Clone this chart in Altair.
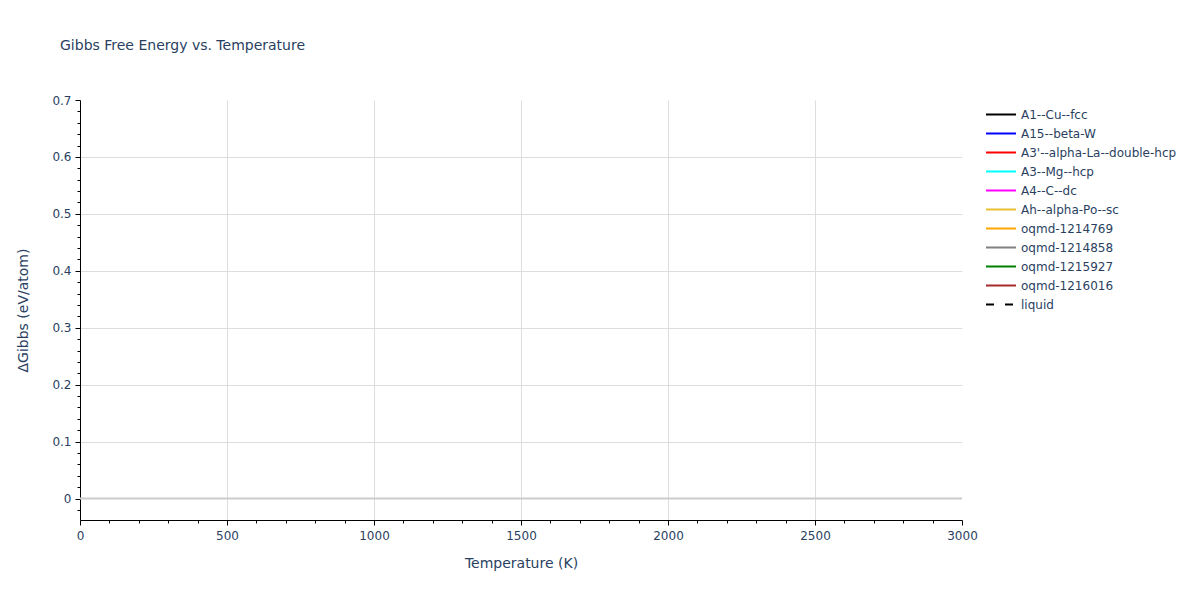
import altair as alt
import pandas as pd

# Series shown in the legend (no curve is visible inside the plot area of the reference)
phases = [
    "A1--Cu--fcc", "A15--beta-W", "A3'--alpha-La--double-hcp", "A3--Mg--hcp",
    "A4--C--dc", "Ah--alpha-Po--sc", "oqmd-1214769", "oqmd-1214858",
    "oqmd-1215927", "oqmd-1216016", "liquid",
]
colors = ["black", "blue", "red", "cyan", "magenta", "#e8c030",
          "orange", "gray", "green", "brown", "black"]
dashes = [[1, 0]] * 10 + [[8, 11]]

# No data points are drawn in the reference: every series is empty
temperature = []
gibbs = {p: [] for p in phases}

rows = [{"phase": p, "T": t, "G": g}
        for p in phases for t, g in zip(temperature, gibbs[p])]
df = pd.DataFrame(rows, columns=["phase", "T", "G"])

zero_df = pd.DataFrame({"G": [0.0]})

x_ticks = list(range(0, 3001, 100))
y_ticks = [round(-0.02 + 0.02 * i, 2) for i in range(37)]

TXT = "#2a3f5f"
FONT = "DejaVu Sans"

x_scale = alt.Scale(domain=[0, 3000], nice=False, zero=False)
y_scale = alt.Scale(domain=[-0.0377, 0.7], nice=False, zero=False)

x_axis = alt.Axis(
    title="Temperature (K)", values=x_ticks,
    labelExpr="datum.value % 500 === 0 ? format(datum.value, 'd') : ''",
    labelOverlap=False, labelFlush=False,
    tickSize={"condition": {"test": "datum.value % 500 === 0", "value": 5}, "value": 3},
    gridOpacity={"condition": {"test": "datum.value % 500 === 0 && datum.value > 0 && datum.value < 3000", "value": 1}, "value": 0},
    labelPadding=5, titlePadding=15,
)
y_axis = alt.Axis(
    title="ΔGibbs (eV/atom)", values=y_ticks,
    labelExpr="abs(datum.value*10 - round(datum.value*10)) < 0.001 ? format(datum.value, '.1~f') : ''",
    labelOverlap=False, labelFlush=False,
    tickSize={"condition": {"test": "abs(datum.value*10 - round(datum.value*10)) < 0.001", "value": 5}, "value": 3},
    gridOpacity={"condition": {"test": "abs(datum.value*10 - round(datum.value*10)) < 0.001 && datum.value > 0.01 && datum.value < 0.69", "value": 1}, "value": 0},
    labelPadding=4, titlePadding=21,
)

legend = alt.Legend(
    title=None, orient="none", legendX=912.5, legendY=6,
    symbolType="M-2,0H2", symbolSize=225, symbolStrokeWidth=2,
    labelFontSize=12, labelColor=TXT, labelFont=FONT, labelOffset=11.5,
    rowPadding=4, padding=0, labelLimit=300,
)

zero = alt.Chart(zero_df).mark_rule(color="#cccccc", strokeWidth=2).encode(
    y=alt.Y("G:Q", scale=y_scale, axis=y_axis),
)

lines = alt.Chart(df).mark_line(strokeWidth=2).encode(
    x=alt.X("T:Q", scale=x_scale, axis=x_axis),
    y=alt.Y("G:Q", scale=y_scale, axis=y_axis),
    color=alt.Color("phase:N", scale=alt.Scale(domain=phases, range=colors), legend=legend),
    strokeDash=alt.StrokeDash("phase:N", scale=alt.Scale(domain=phases, range=dashes), legend=legend),
)

chart = alt.layer(zero, lines).properties(
    width=882, height=420,
    padding={"left": 72, "top": 92, "right": 230, "bottom": 72},
    autosize=alt.AutoSizeParams(type="none"),
    background="white",
    title=alt.TitleParams(
        "Gibbs Free Energy vs. Temperature", anchor="start", frame="group",
        dx=-20, offset=30, baseline="alphabetic", fontSize=14,
        font=FONT, color=TXT, fontWeight="normal",
    ),
).configure_view(stroke=None).configure_axis(
    domainColor="black", tickColor="black", gridColor="#dddddd",
    labelFont=FONT, titleFont=FONT, labelFontSize=12, titleFontSize=14,
    labelColor=TXT, titleColor=TXT, titleFontWeight="normal",
)

chart.save("out.html", embed_options={"renderer": "svg", "actions": False})
